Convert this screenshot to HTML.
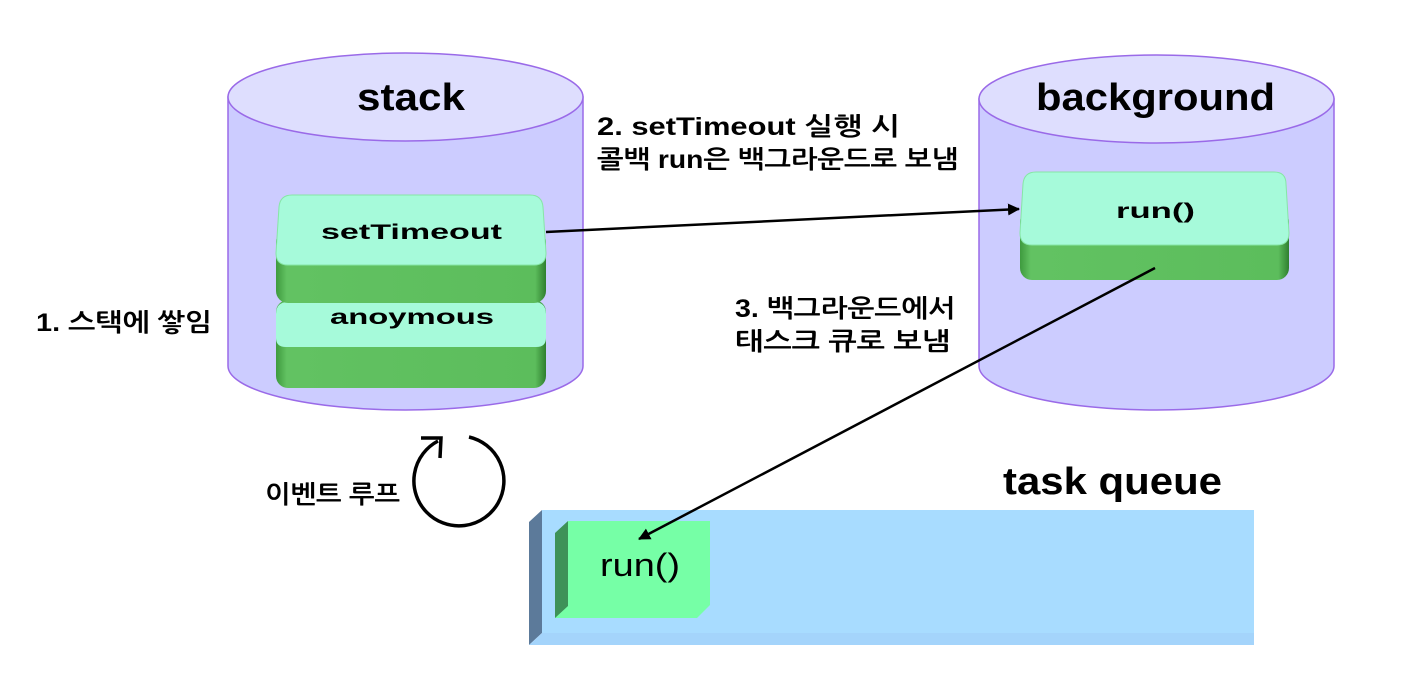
<!DOCTYPE html>
<html><head><meta charset="utf-8"><style>
html,body{margin:0;padding:0;background:#fff;}
svg{display:block;}
text{font-family:"Liberation Sans","NanumGothic","Noto Sans CJK KR",sans-serif;fill:#000;}
</style></head><body>
<svg width="1418" height="697" viewBox="0 0 1418 697" xmlns="http://www.w3.org/2000/svg">
<defs>
<linearGradient id="side" x1="0" x2="1" y1="0" y2="0">
<stop offset="0" stop-color="#3e9a3e"/><stop offset="0.04" stop-color="#62c262"/><stop offset="0.96" stop-color="#5cbd5c"/><stop offset="1" stop-color="#2f7f2f"/>
</linearGradient>
<marker id="ah" markerWidth="12" markerHeight="12" refX="11" refY="6" orient="auto" markerUnits="userSpaceOnUse"><path d="M0,0 L12,6 L0,12 Z" fill="#000"/></marker>
</defs>
<path d="M228,97 L228,366 A177.5,44 0 0 0 583,366 L583,97 Z" fill="#ccccff" stroke="#9a6ae8" stroke-width="1.5"/>
<ellipse cx="405.5" cy="97" rx="177.5" ry="44" fill="#dedefe" stroke="#9a6ae8" stroke-width="1.5"/>
<text x="357" y="110" font-size="38" font-weight="bold" textLength="108" lengthAdjust="spacingAndGlyphs">stack</text>
<path d="M979,99 L979,366 A177.5,44 0 0 0 1334,366 L1334,99 Z" fill="#ccccff" stroke="#9a6ae8" stroke-width="1.5"/>
<ellipse cx="1156.5" cy="99" rx="177.5" ry="44" fill="#dedefe" stroke="#9a6ae8" stroke-width="1.5"/>
<text x="1036" y="110" font-size="38" font-weight="bold" textLength="239" lengthAdjust="spacingAndGlyphs">background</text>
<rect x="276" y="300" width="270" height="88" rx="12" fill="url(#side)"/>
<path d="M288,302 L534,302 Q546,302 546,314 L546,338 Q546,347 536,347 L286,347 Q276,347 276,338 L276,314 Q276,302 288,302 Z" fill="#a6fada"/>
<text x="330" y="324" font-size="21" font-weight="bold" textLength="164" lengthAdjust="spacingAndGlyphs">anoymous</text>
<rect x="276" y="230" width="270" height="73" rx="12" fill="url(#side)"/>
<path d="M292,195 L530,195 Q542,195 543,207 L546,253 Q546,265 534,265 L288,265 Q276,265 276,253 L279,207 Q280,195 292,195 Z" fill="#a6fada" stroke="#86e6a6" stroke-width="1"/>
<text x="321" y="239" font-size="21" font-weight="bold" textLength="181" lengthAdjust="spacingAndGlyphs">setTimeout</text>
<rect x="1020" y="210" width="269" height="70" rx="12" fill="url(#side)"/>
<path d="M1036,172 L1274,172 Q1286,172 1286,184 L1289,233 Q1289,245 1277,245 L1032,245 Q1020,245 1020,233 L1023,184 Q1024,172 1036,172 Z" fill="#a6fada" stroke="#86e6a6" stroke-width="1"/>
<text x="1116" y="218" font-size="21" font-weight="bold" textLength="79" lengthAdjust="spacingAndGlyphs">run()</text>
<polygon points="529,522 542,510 542,633 529,645" fill="#5c7a9a"/>
<rect x="542" y="510" width="712" height="123" fill="#a8dcff"/>
<polygon points="529,645 542,633 1254,633 1254,645" fill="#a4d4fb"/>
<polygon points="555,533 568,521 568,618 555,618" fill="#3e9258"/>
<polygon points="568,521 710,521 710,605 697,618 555,618 568,606" fill="#76ffa6"/>
<text x="600" y="576" font-size="32" textLength="80" lengthAdjust="spacingAndGlyphs">run()</text>
<text x="1003" y="494" font-size="38" font-weight="bold" textLength="219" lengthAdjust="spacingAndGlyphs">task queue</text>
<line x1="546" y1="232" x2="1019" y2="209" stroke="#000" stroke-width="2.5" marker-end="url(#ah)"/>
<line x1="1155" y1="268" x2="639" y2="539" stroke="#000" stroke-width="2.5" marker-end="url(#ah)"/>
<text x="597" y="135" font-size="25" font-weight="bold" textLength="303" lengthAdjust="spacingAndGlyphs">2. setTimeout 실행 시</text>
<text x="597" y="168" font-size="25" font-weight="bold" textLength="361" lengthAdjust="spacingAndGlyphs">콜백 run은 백그라운드로 보냄</text>
<text x="735" y="317" font-size="25" font-weight="bold" textLength="220" lengthAdjust="spacingAndGlyphs">3. 백그라운드에서</text>
<text x="735" y="350" font-size="25" font-weight="bold" textLength="215" lengthAdjust="spacingAndGlyphs">태스크 큐로 보냄</text>
<text x="36" y="331" font-size="25" font-weight="bold" textLength="176" lengthAdjust="spacingAndGlyphs">1. 스택에 쌓임</text>
<text x="265" y="503" font-size="25" font-weight="bold" textLength="135" lengthAdjust="spacingAndGlyphs">이벤트 루프</text>
<path d="M469,437 A45,45 0 1 1 438,441" fill="none" stroke="#000" stroke-width="3.5"/>
<path d="M421,438 L441,438 L440,458" fill="none" stroke="#000" stroke-width="3.5"/>
</svg>
</body></html>
